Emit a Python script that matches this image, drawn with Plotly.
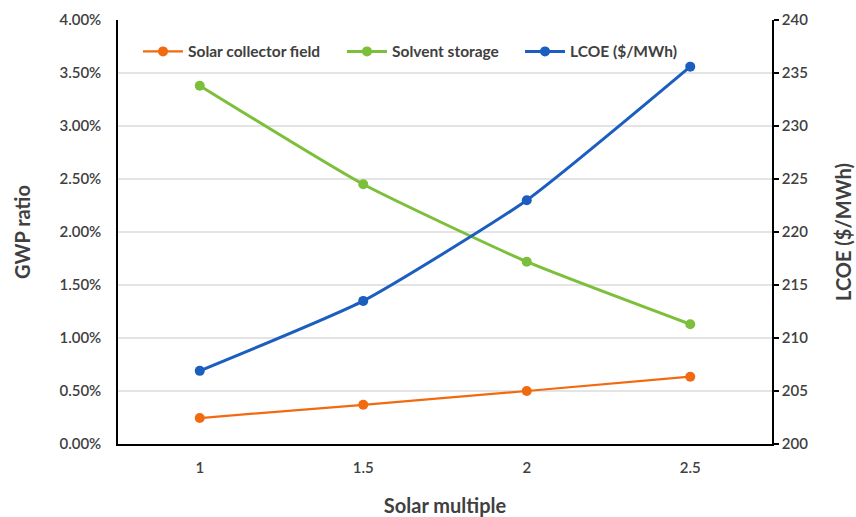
import plotly.graph_objects as go

solar_multiple = [1, 1.5, 2, 2.5]
x_labels = ["1", "1.5", "2", "2.5"]
collector_gwp = [0.245, 0.37, 0.50, 0.635]
storage_gwp = [3.38, 2.45, 1.72, 1.13]
lcoe = [206.9, 213.5, 223.0, 235.6]

orange = "#F26A10"
green = "#7CBF3B"
blue = "#1B5EBF"
font_fam = "Lato"
txt = "#404040"

fig = go.Figure()
fig.add_trace(go.Scatter(x=solar_multiple, y=collector_gwp, name="Solar collector field", legend="legend",
                         mode="lines+markers", line=dict(color=orange, width=2.2, shape="spline", smoothing=0.5),
                         marker=dict(size=10, color=orange)))
fig.add_trace(go.Scatter(x=solar_multiple, y=storage_gwp, name="Solvent storage", legend="legend2",
                         mode="lines+markers", line=dict(color=green, width=3, shape="spline", smoothing=0.5),
                         marker=dict(size=10, color=green)))
fig.add_trace(go.Scatter(x=solar_multiple, y=lcoe, name="LCOE ($/MWh)", yaxis="y2", legend="legend3",
                         mode="lines+markers", line=dict(color=blue, width=3, shape="spline", smoothing=0.5),
                         marker=dict(size=10, color=blue)))

leg_font = dict(size=15.5, color=txt, family=font_fam, weight="bold")
tick_font = dict(size=15, color=txt, family=font_fam, weight=600)
title_font = dict(size=20, color=txt, family=font_fam, weight="bold")

def leg(x):
    return dict(orientation="h", x=x, y=0.925, xanchor="left", yanchor="middle",
                bgcolor="rgba(0,0,0,0)", font=leg_font, itemwidth=40)

fig.update_layout(
    width=856, height=517,
    margin=dict(l=118, r=84, t=20, b=73),
    paper_bgcolor="white", plot_bgcolor="white",
    font=dict(family=font_fam, color=txt, size=14),
    showlegend=True,
    legend=leg(0.0306), legend2=leg(0.3425), legend3=leg(0.6147),
    xaxis=dict(range=[0.75, 2.75], tickvals=solar_multiple, ticktext=x_labels, automargin=False,
               showgrid=False, zeroline=False, showline=True, linecolor="black", linewidth=1.5,
               ticks="", ticklabelstandoff=9, tickfont=tick_font,
               title=dict(text="Solar multiple", font=title_font, standoff=25)),
    yaxis=dict(range=[0, 4], dtick=0.5, tickformat=".2f", ticksuffix="%", automargin=False,
               showgrid=True, gridcolor="#E4E4E4", gridwidth=1.5, zeroline=False,
               showline=True, linecolor="black", linewidth=1.5, ticks="", ticklabelstandoff=12,
               tickfont=tick_font,
               title=dict(text="GWP ratio", font=title_font, standoff=23)),
    yaxis2=dict(range=[200, 240], dtick=5, overlaying="y", side="right", automargin=False,
                showgrid=False, zeroline=False, showline=True, linecolor="black", linewidth=1.5,
                ticks="outside", ticklen=5, tickcolor="black", tickwidth=1.5,
                tickfont=tick_font,
                title=dict(text="LCOE ($/MWh)", font=title_font, standoff=30)),
)

fig.write_html("out.html")
